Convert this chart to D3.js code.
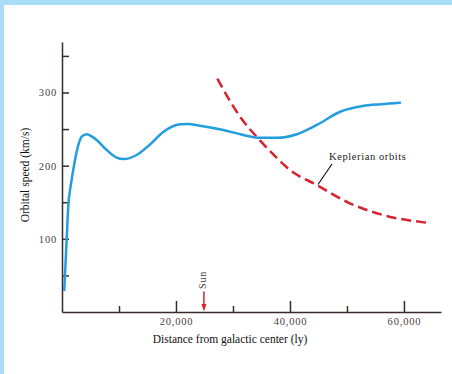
<!DOCTYPE html>
<html>
<head>
<meta charset="utf-8">
<script src="https://cdn.jsdelivr.net/npm/d3@7"></script>
<style>
  body { margin: 0; background: #fff; }
  svg { display: block; }
</style>
</head>
<body>
<script>
// rotation curve of the galaxy (distance in ly, speed in km/s)
var observedDist = [400, 820, 1100, 1600, 2100, 2860, 3450, 4330, 5200, 6080, 7840, 9590, 10760, 13100, 15440, 17770, 20700, 22000, 24200, 28300, 31800, 34700, 37700, 41200, 44700, 48800, 52800, 56000, 59300];
var observedSpeed = [30, 100, 144, 176, 200, 228, 239.6, 243, 240, 235, 221.4, 211, 209, 214.6, 229, 246, 256.5, 257, 254.6, 248.7, 242, 238, 238, 243, 255.6, 273.7, 281.5, 284, 286];

var keplerDist = [27250, 31230, 34440, 37000, 40000, 44700, 50500, 56300, 64000];
var keplerSpeed = [319, 267, 237, 216, 194, 173.6, 148.6, 132.6, 122];

var xMajorTicks = [20000, 40000, 60000];
var xMinorTicks = [10000, 30000, 50000];
var yTicks = [50, 100, 150, 200, 250, 300, 350];
var sunDist = 24900;

var svg = d3.select('body').append('svg').attr('width', 452).attr('height', 374);

// light blue frame on top and left
svg.append('rect').attr('x', 0).attr('y', 0).attr('width', 452).attr('height', 5).attr('fill', '#a9dcf7');
svg.append('rect').attr('x', 0).attr('y', 0).attr('width', 4).attr('height', 374).attr('fill', '#a9dcf7');

var xScale = d3.scaleLinear().domain([0, 66500]).range([62, 441]);
var yScale = d3.scaleLinear().domain([0, 369]).range([312, 42]);

var axisColor = '#3a2b2b';
var serif = '"Liberation Serif", "DejaVu Serif", serif';

// y axis, ticks pointing inward
var yAxis = svg.append('g')
  .attr('transform', 'translate(' + xScale(0) + ',0)')
  .call(d3.axisLeft(yScale)
    .tickValues(yTicks)
    .tickSizeInner(-7)
    .tickSizeOuter(0)
    .tickPadding(5)
    .tickFormat(function (d) { return d % 100 === 0 ? d : ''; }));

// x axis, major and minor ticks
var xAxis = svg.append('g')
  .attr('transform', 'translate(0,' + yScale(0) + ')')
  .call(d3.axisBottom(xScale)
    .tickValues(xMajorTicks)
    .tickSizeInner(-11)
    .tickSizeOuter(0)
    .tickFormat(d3.format(',')));

var xMinor = svg.append('g')
  .attr('transform', 'translate(0,' + yScale(0) + ')')
  .call(d3.axisBottom(xScale)
    .tickValues(xMinorTicks)
    .tickSizeInner(-6)
    .tickSizeOuter(0)
    .tickFormat(''));
xMinor.select('.domain').remove();

[yAxis, xAxis, xMinor].forEach(function (g) {
  g.selectAll('path, line').attr('stroke', axisColor).attr('stroke-width', 1.5);
  g.selectAll('text')
    .attr('fill', '#4a4040')
    .attr('font-family', serif)
    .attr('font-size', '10.5px')
    .attr('letter-spacing', '0.8px');
});
xAxis.selectAll('text').attr('y', 13).attr('dy', 0);

// axis titles
svg.append('text')
  .attr('x', 230)
  .attr('y', 343)
  .attr('text-anchor', 'middle')
  .attr('font-family', serif)
  .attr('font-size', '11.5px')
  .attr('fill', '#111')
  .text('Distance from galactic center (ly)');

svg.append('text')
  .attr('transform', 'translate(29,175) rotate(-90)')
  .attr('text-anchor', 'middle')
  .attr('font-family', serif)
  .attr('font-size', '11.5px')
  .attr('fill', '#111')
  .text('Orbital speed (km/s)');

var line = d3.line()
  .x(function (d) { return xScale(d[0]); })
  .y(function (d) { return yScale(d[1]); })
  .curve(d3.curveMonotoneX);

svg.append('path')
  .datum(d3.zip(keplerDist, keplerSpeed))
  .attr('d', line)
  .attr('fill', 'none')
  .attr('stroke', '#d7232e')
  .attr('stroke-width', 2.5)
  .attr('stroke-dasharray', '10,5');

svg.append('path')
  .datum(d3.zip(observedDist, observedSpeed))
  .attr('d', line)
  .attr('fill', 'none')
  .attr('stroke', '#229de0')
  .attr('stroke-width', 2.5)
  .attr('stroke-linecap', 'round');

// Keplerian label with leader line
svg.append('line')
  .attr('x1', 332).attr('y1', 164)
  .attr('x2', 318).attr('y2', 184.5)
  .attr('stroke', '#111')
  .attr('stroke-width', 1.2);

svg.append('text')
  .attr('x', 329)
  .attr('y', 159.5)
  .attr('font-family', serif)
  .attr('font-size', '10.5px')
  .attr('letter-spacing', '0.6px')
  .attr('fill', '#222')
  .text('Keplerian orbits');

// Sun marker
var sx = xScale(sunDist);
svg.append('line')
  .attr('x1', sx).attr('y1', 291.5)
  .attr('x2', sx).attr('y2', 306)
  .attr('stroke', '#d7232e')
  .attr('stroke-width', 1.5);
svg.append('path')
  .attr('d', 'M' + (sx - 2.5) + ',304 L' + (sx + 2.5) + ',304 L' + sx + ',' + (yScale(0) - 0.5) + 'Z')
  .attr('fill', '#d7232e');

svg.append('text')
  .attr('transform', 'translate(' + (sx + 2.5) + ',280) rotate(-90)')
  .attr('text-anchor', 'middle')
  .attr('font-family', serif)
  .attr('font-size', '10px')
  .attr('letter-spacing', '0.8px')
  .attr('fill', '#333')
  .text('Sun');
</script>
</body>
</html>
